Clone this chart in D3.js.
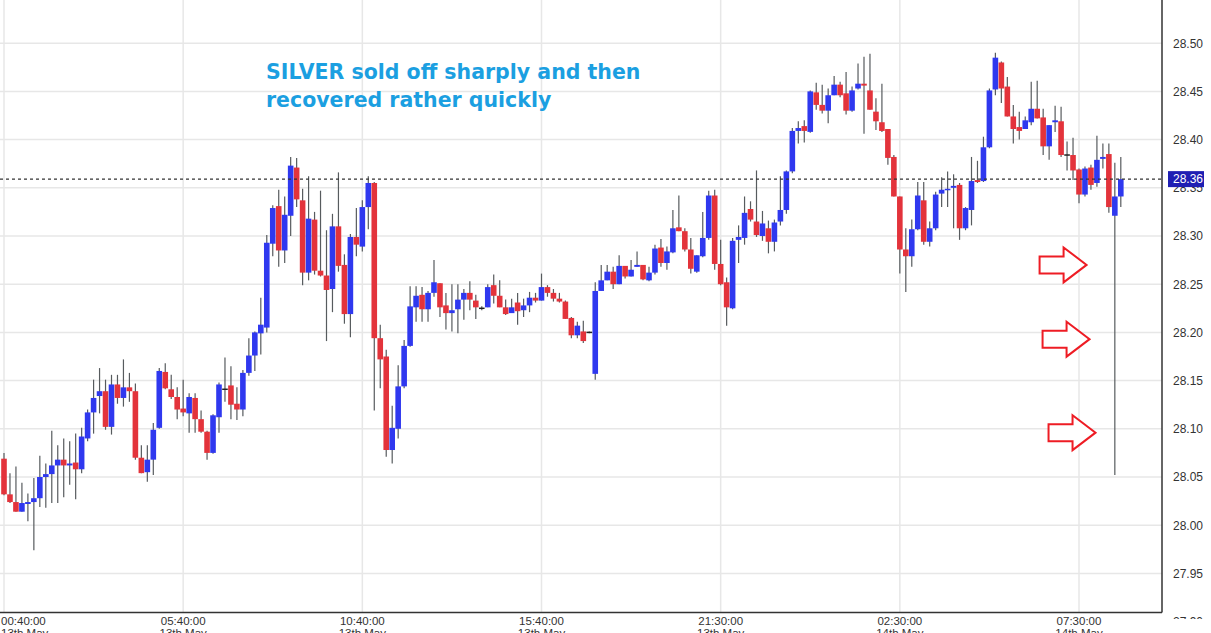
<!DOCTYPE html>
<html>
<head>
<meta charset="utf-8">
<script src="https://cdn.jsdelivr.net/npm/d3@7"></script>
<style>
  body { margin: 0; background: #fff; }
  svg { display: block; }
  text { font-family: "Liberation Sans", Arial, sans-serif; }
</style>
</head>
<body>
<script>
// candle data, one entry per bar
const opens = [
  28.069, 28.032, 28.024, 28.014, 28.022, 28.024, 28.028, 28.050, 28.053, 28.062,
  28.068, 28.062, 28.065, 28.058, 28.090, 28.117, 28.134, 28.139, 28.102, 28.146,
  28.132, 28.143, 28.139, 28.070, 28.055, 28.068, 28.101, 28.159, 28.141, 28.133,
  28.121, 28.116, 28.132, 28.110, 28.097, 28.075, 28.112, 28.141, 28.145, 28.126,
  28.120, 28.158, 28.176, 28.199, 28.205, 28.292, 28.331, 28.285, 28.321, 28.371,
  28.337, 28.262, 28.317, 28.264, 28.259, 28.245, 28.310, 28.270, 28.219, 28.299,
  28.289, 28.330, 28.355, 28.194, 28.175, 28.078, 28.100, 28.144, 28.186, 28.226,
  28.239, 28.224, 28.241, 28.251, 28.228, 28.220, 28.224, 28.234, 28.241, 28.233,
  28.225, 28.226, 28.249, 28.238, 28.226, 28.220, 28.231, 28.223, 28.228, 28.236,
  28.233, 28.247, 28.241, 28.235, 28.232, 28.215, 28.197, 28.201, 28.200, 28.157,
  28.243, 28.254, 28.263, 28.250, 28.269, 28.258, 28.268, 28.270, 28.254, 28.262,
  28.288, 28.272, 28.283, 28.309, 28.305, 28.286, 28.263, 28.279, 28.298, 28.342,
  28.271, 28.252, 28.225, 28.296, 28.298, 28.328, 28.315, 28.300, 28.308, 28.294,
  28.315, 28.327, 28.367, 28.409, 28.414, 28.408, 28.449, 28.436, 28.430, 28.446,
  28.457, 28.448, 28.430, 28.453, 28.458, 28.451, 28.429, 28.418, 28.411, 28.382,
  28.341, 28.286, 28.279, 28.307, 28.337, 28.294, 28.308, 28.344, 28.348, 28.350,
  28.353, 28.308, 28.327, 28.358, 28.357, 28.392, 28.452, 28.480, 28.455, 28.424,
  28.413, 28.411, 28.418, 28.432, 28.423, 28.393, 28.418, 28.419, 28.384, 28.384,
  28.369, 28.343, 28.371, 28.355, 28.380, 28.385, 28.321, 28.341
];
const highs = [
  28.075, 28.054, 28.061, 28.044, 28.033, 28.049, 28.072, 28.064, 28.098, 28.083,
  28.090, 28.087, 28.095, 28.101, 28.120, 28.151, 28.163, 28.151, 28.156, 28.156,
  28.172, 28.158, 28.147, 28.083, 28.083, 28.106, 28.163, 28.168, 28.156, 28.143,
  28.151, 28.137, 28.137, 28.119, 28.098, 28.115, 28.148, 28.174, 28.165, 28.143,
  28.161, 28.194, 28.201, 28.236, 28.301, 28.332, 28.348, 28.341, 28.382, 28.381,
  28.349, 28.362, 28.325, 28.347, 28.306, 28.323, 28.366, 28.281, 28.302, 28.329,
  28.337, 28.362, 28.356, 28.208, 28.182, 28.124, 28.166, 28.192, 28.248, 28.248,
  28.247, 28.243, 28.275, 28.251, 28.241, 28.250, 28.250, 28.245, 28.253, 28.239,
  28.227, 28.250, 28.260, 28.254, 28.234, 28.235, 28.241, 28.235, 28.242, 28.241,
  28.261, 28.249, 28.245, 28.241, 28.233, 28.216, 28.211, 28.212, 28.201, 28.252,
  28.270, 28.270, 28.268, 28.280, 28.269, 28.275, 28.284, 28.270, 28.268, 28.291,
  28.297, 28.289, 28.327, 28.342, 28.308, 28.298, 28.280, 28.325, 28.347, 28.348,
  28.296, 28.257, 28.298, 28.311, 28.341, 28.336, 28.368, 28.326, 28.316, 28.317,
  28.362, 28.368, 28.412, 28.419, 28.420, 28.451, 28.459, 28.457, 28.453, 28.466,
  28.460, 28.470, 28.455, 28.479, 28.486, 28.489, 28.443, 28.458, 28.411, 28.384,
  28.341, 28.308, 28.317, 28.356, 28.356, 28.315, 28.346, 28.361, 28.367, 28.364,
  28.355, 28.330, 28.382, 28.378, 28.403, 28.453, 28.490, 28.481, 28.465, 28.436,
  28.429, 28.424, 28.460, 28.461, 28.432, 28.415, 28.435, 28.434, 28.398, 28.402,
  28.370, 28.372, 28.374, 28.404, 28.396, 28.396, 28.376, 28.382
];
const lows = [
  28.031, 28.023, 28.014, 28.014, 28.004, 27.974, 28.019, 28.018, 28.023, 28.023,
  28.029, 28.042, 28.027, 28.054, 28.087, 28.095, 28.116, 28.099, 28.094, 28.126,
  28.123, 28.128, 28.068, 28.054, 28.045, 28.052, 28.100, 28.141, 28.131, 28.110,
  28.113, 28.096, 28.096, 28.096, 28.068, 28.074, 28.096, 28.128, 28.110, 28.109,
  28.113, 28.155, 28.160, 28.177, 28.200, 28.279, 28.268, 28.272, 28.300, 28.330,
  28.249, 28.254, 28.260, 28.258, 28.191, 28.221, 28.263, 28.209, 28.195, 28.279,
  28.284, 28.307, 28.119, 28.142, 28.071, 28.064, 28.090, 28.142, 28.185, 28.211,
  28.211, 28.211, 28.237, 28.216, 28.203, 28.201, 28.199, 28.213, 28.223, 28.214,
  28.223, 28.226, 28.230, 28.226, 28.218, 28.220, 28.208, 28.216, 28.221, 28.231,
  28.233, 28.237, 28.232, 28.231, 28.214, 28.194, 28.194, 28.189, 28.199, 28.151,
  28.243, 28.254, 28.245, 28.250, 28.256, 28.258, 28.268, 28.254, 28.253, 28.260,
  28.268, 28.265, 28.282, 28.305, 28.284, 28.261, 28.262, 28.278, 28.296, 28.265,
  28.249, 28.207, 28.224, 28.272, 28.291, 28.315, 28.299, 28.295, 28.282, 28.284,
  28.311, 28.323, 28.365, 28.396, 28.397, 28.407, 28.431, 28.427, 28.417, 28.446,
  28.444, 28.426, 28.429, 28.452, 28.406, 28.431, 28.410, 28.408, 28.374, 28.341,
  28.261, 28.242, 28.268, 28.306, 28.291, 28.289, 28.306, 28.330, 28.330, 28.308,
  28.296, 28.306, 28.311, 28.355, 28.356, 28.391, 28.446, 28.438, 28.424, 28.396,
  28.400, 28.411, 28.415, 28.422, 28.384, 28.379, 28.408, 28.382, 28.368, 28.358,
  28.334, 28.341, 28.348, 28.351, 28.370, 28.324, 28.052, 28.330
];
const closes = [
  28.032, 28.024, 28.014, 28.023, 28.024, 28.028, 28.050, 28.053, 28.062, 28.068,
  28.062, 28.064, 28.058, 28.092, 28.117, 28.132, 28.139, 28.102, 28.146, 28.132,
  28.143, 28.139, 28.070, 28.054, 28.068, 28.099, 28.160, 28.142, 28.133, 28.120,
  28.117, 28.133, 28.110, 28.097, 28.075, 28.114, 28.146, 28.141, 28.125, 28.120,
  28.158, 28.176, 28.200, 28.208, 28.293, 28.329, 28.285, 28.322, 28.373, 28.338,
  28.262, 28.318, 28.264, 28.259, 28.244, 28.310, 28.269, 28.219, 28.299, 28.291,
  28.330, 28.355, 28.194, 28.172, 28.078, 28.101, 28.144, 28.186, 28.227, 28.238,
  28.224, 28.241, 28.252, 28.226, 28.220, 28.223, 28.234, 28.241, 28.234, 28.226,
  28.225, 28.247, 28.238, 28.226, 28.219, 28.226, 28.222, 28.228, 28.236, 28.233,
  28.247, 28.241, 28.235, 28.232, 28.214, 28.197, 28.207, 28.191, 28.200, 28.243,
  28.254, 28.263, 28.250, 28.269, 28.258, 28.265, 28.270, 28.255, 28.262, 28.287,
  28.272, 28.284, 28.308, 28.305, 28.286, 28.266, 28.280, 28.298, 28.342, 28.271,
  28.250, 28.226, 28.295, 28.299, 28.324, 28.317, 28.301, 28.313, 28.294, 28.314,
  28.327, 28.367, 28.409, 28.412, 28.409, 28.450, 28.436, 28.430, 28.446, 28.457,
  28.446, 28.430, 28.451, 28.458, 28.456, 28.431, 28.419, 28.409, 28.381, 28.341,
  28.286, 28.279, 28.307, 28.342, 28.294, 28.308, 28.343, 28.348, 28.349, 28.352,
  28.308, 28.329, 28.357, 28.356, 28.392, 28.451, 28.485, 28.453, 28.424, 28.411,
  28.409, 28.420, 28.432, 28.422, 28.393, 28.415, 28.420, 28.384, 28.384, 28.368,
  28.343, 28.370, 28.353, 28.379, 28.382, 28.330, 28.341, 28.359
];

// axis labels
const tickBars = [0, 30, 60, 90, 120, 150, 180];
const tickTimes = ["00:40:00", "05:40:00", "10:40:00", "15:40:00", "21:30:00", "02:30:00", "07:30:00"];
const tickDates = ["13th May", "13th May", "13th May", "13th May", "13th May", "14th May", "14th May"];
const priceTicks = [27.90, 27.95, 28.00, 28.05, 28.10, 28.15, 28.20, 28.25, 28.30, 28.35, 28.40, 28.45, 28.50];

// annotation
const noteLines = ["SILVER sold off sharply and then", "recovered rather quickly"];
const arrowSpots = [
  { bar: 173.4, price: 28.270 },
  { bar: 173.9, price: 28.193 },
  { bar: 174.9, price: 28.096 }
];

const W = 1211, H = 633;
const plotRight = 1162, plotBottom = 612.5;
const upColor = "#2f38ef", downColor = "#e3333b";

const svg = d3.select("body").append("svg")
  .attr("width", W)
  .attr("height", H);

const x = d3.scaleLinear().domain([0, 180]).range([4, 1079]);
const y = d3.scaleLinear().domain([27.90, 28.50]).range([621.6, 43.2]);
const fmt = d3.format(".2f");
const bodyW = 5.6;

svg.append("clipPath").attr("id", "plot")
  .append("rect").attr("x", 0).attr("y", 0).attr("width", plotRight).attr("height", plotBottom);
svg.append("clipPath").attr("id", "labels")
  .append("rect").attr("x", 0).attr("y", 0).attr("width", W - plotRight).attr("height", 619);

// grid
const grid = svg.append("g").attr("clip-path", "url(#plot)");
grid.selectAll(".hg").data(priceTicks).join("line")
  .attr("x1", 0).attr("x2", plotRight)
  .attr("y1", d => y(d)).attr("y2", d => y(d))
  .attr("stroke", "#e7e7e7").attr("stroke-width", 1.5);
grid.selectAll(".vg").data(tickBars).join("line")
  .attr("x1", d => x(d)).attr("x2", d => x(d))
  .attr("y1", 0).attr("y2", plotBottom)
  .attr("stroke", "#e7e7e7").attr("stroke-width", 1.5);

// candles
const bars = d3.range(opens.length).map(i => ({
  i, o: opens[i], h: highs[i], l: lows[i], c: closes[i]
}));

const candles = svg.append("g").attr("clip-path", "url(#plot)");
candles.selectAll(".wick").data(bars).join("line")
  .attr("x1", d => x(d.i)).attr("x2", d => x(d.i))
  .attr("y1", d => y(d.h)).attr("y2", d => y(d.l))
  .attr("stroke", "#575b5e").attr("stroke-width", 1.2);

candles.selectAll(".body").data(bars.filter(d => d.o !== d.c)).join("rect")
  .attr("x", d => x(d.i) - bodyW / 2)
  .attr("width", bodyW)
  .attr("y", d => y(Math.max(d.o, d.c)))
  .attr("height", d => Math.max(1.5, Math.abs(y(d.o) - y(d.c))))
  .attr("fill", d => d.c > d.o ? upColor : downColor);

candles.selectAll(".doji").data(bars.filter(d => d.o === d.c)).join("line")
  .attr("x1", d => x(d.i) - bodyW / 2).attr("x2", d => x(d.i) + bodyW / 2)
  .attr("y1", d => y(d.c)).attr("y2", d => y(d.c))
  .attr("stroke", "#222").attr("stroke-width", 1.5);

// last price line
const last = closes[closes.length - 1];
svg.append("line")
  .attr("x1", 0).attr("x2", plotRight)
  .attr("y1", y(last)).attr("y2", y(last))
  .attr("stroke", "#333").attr("stroke-width", 1.2)
  .attr("stroke-dasharray", "3,3");

// axis lines
svg.append("line")
  .attr("x1", plotRight).attr("x2", plotRight)
  .attr("y1", 0).attr("y2", plotBottom)
  .attr("stroke", "#333").attr("stroke-width", 1.5);
svg.append("line")
  .attr("x1", 0).attr("x2", plotRight)
  .attr("y1", plotBottom).attr("y2", plotBottom)
  .attr("stroke", "#333").attr("stroke-width", 1.5);

// price axis
const yAxis = svg.append("g")
  .attr("transform", `translate(${plotRight},0)`)
  .attr("clip-path", "url(#labels)")
  .call(d3.axisRight(y).tickValues(priceTicks).tickSize(0).tickPadding(11).tickFormat(fmt));
yAxis.select(".domain").remove();
yAxis.selectAll("text")
  .attr("fill", "#333").attr("font-size", 12)
  .style("font-family", "'Liberation Sans', Arial, sans-serif");

// last price tag
const tag = svg.append("g").attr("transform", `translate(${plotRight + 6},${y(last)})`);
tag.append("rect").attr("x", 0).attr("y", -8).attr("width", 36).attr("height", 16)
  .attr("fill", "#1f1fb3");
tag.append("text").attr("x", 5).attr("dy", "0.34em")
  .attr("fill", "#fff").attr("font-size", 12).text(fmt(last));

// time axis
const xLabels = svg.append("g").selectAll("text").data(tickBars).join("text")
  .attr("x", (d, k) => k === 0 ? 1 : x(d))
  .attr("y", 624.5)
  .attr("text-anchor", (d, k) => k === 0 ? "start" : "middle")
  .attr("fill", "#333")
  .attr("font-size", 11.5);
xLabels.append("tspan").text((d, k) => tickTimes[k]);
xLabels.append("tspan")
  .attr("x", (d, k) => k === 0 ? 1 : x(d))
  .attr("dy", 12)
  .text((d, k) => tickDates[k]);

// note
svg.append("g").selectAll("text").data(noteLines).join("text")
  .attr("x", 266)
  .attr("y", (d, k) => 79 + k * 28)
  .attr("fill", "#1b9fe1")
  .attr("font-size", 20.5)
  .attr("font-weight", "bold")
  .style("font-family", "'DejaVu Sans', Verdana, sans-serif")
  .text(d => d);

// red arrows
const arrowPath = "M0,-8.5 L24,-8.5 L24,-17.5 L47,0 L24,17.5 L24,8.5 L0,8.5 Z";
svg.append("g").selectAll("path").data(arrowSpots).join("path")
  .attr("transform", d => `translate(${x(d.bar)},${y(d.price)})`)
  .attr("d", arrowPath)
  .attr("fill", "#fff")
  .attr("stroke", "#ee1c24")
  .attr("stroke-width", 2);
</script>
</body>
</html>
